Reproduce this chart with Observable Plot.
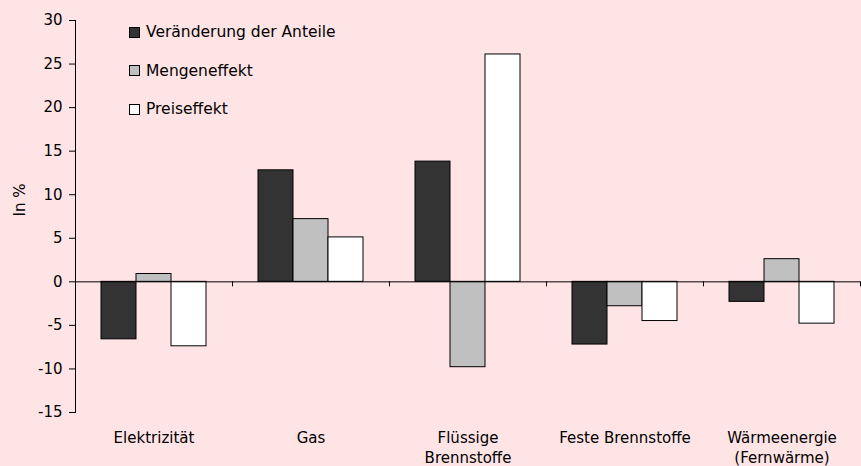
<!DOCTYPE html>
<html>
<head>
<meta charset="utf-8">
<script src="https://cdn.jsdelivr.net/npm/d3@7"></script>
<script src="https://cdn.jsdelivr.net/npm/@observablehq/plot@0.6"></script>
<style>
  html, body { margin: 0; padding: 0; background: #FFE4E6; }
  #wrap { position: relative; width: 861px; height: 466px; font-family: "DejaVu Sans", sans-serif; }
  #legend { position: absolute; left: 129px; top: 21px; font-size: 15.5px; color: #000; }
  .item { display: flex; align-items: center; height: 22px; margin-bottom: 16.5px; }
  .sw { width: 11px; height: 11px; border: 1px solid #000; box-sizing: border-box; margin-right: 6px; }
</style>
</head>
<body>
<div id="wrap"></div>
<script>
const categories = ["Elektrizität", "Gas", "Flüssige\nBrennstoffe", "Feste Brennstoffe", "Wärmeenergie\n(Fernwärme)"];
const series = ["Veränderung der Anteile", "Mengeneffekt", "Preiseffekt"];
const colors = ["#333333", "#C0C0C0", "#FFFFFF"];
const anteile = [-6.6, 12.8, 13.8, -7.2, -2.3];
const menge = [0.9, 7.2, -9.8, -2.8, 2.6];
const preis = [-7.4, 5.1, 26.1, -4.5, -4.8];
const yTicks = [-15, -10, -5, 0, 5, 10, 15, 20, 25, 30];

const values = [anteile, menge, preis];
// group layout: each category occupies one unit; bars fill part of it
const barW = 35 / 157;
const pad = (1 - 3 * barW) / 2;
const data = [];
categories.forEach((c, i) => {
  series.forEach((s, j) => {
    const x1 = i + pad + j * barW;
    data.push({cat: c, series: s, value: values[j][i], x1, x2: x1 + barW, color: colors[j]});
  });
});

const chart = Plot.plot({
  width: 861,
  height: 466,
  marginLeft: 75,
  marginRight: 1,
  marginTop: 20,
  marginBottom: 54,
  style: {background: "#FFE4E6", fontFamily: "DejaVu Sans, sans-serif", fontSize: "15px", color: "#000"},
  x: {domain: [0, categories.length]},
  y: {domain: [-15, 30]},
  marks: [
    Plot.rectY(data, {x1: "x1", x2: "x2", y1: 0, y2: "value", fill: "color", stroke: "#000", strokeWidth: 1}),
    Plot.ruleY([0], {stroke: "#000", strokeWidth: 1}),
    Plot.ruleX(d3.range(0, categories.length + 1), {y1: 0, y2: 0, insetBottom: -5, stroke: "#000"}),
    Plot.frame({anchor: "left", stroke: "#000"}),
    Plot.axisY({ticks: yTicks, tickSize: 6, tickPadding: 7, tickFormat: d => String(d), label: null, fontSize: 15}),
    Plot.text(["In %"], {frameAnchor: "left", dx: -55, rotate: -90, fontSize: 15, fill: "#000"}),
    Plot.axisX({ticks: d3.range(categories.length).map(i => i + 0.5), tickFormat: (d) => categories[Math.floor(d)], tickSize: 0, tickPadding: 16, label: null, fontSize: 15, lineHeight: 1.33})
  ]
});
document.getElementById("wrap").appendChild(chart);

const legend = document.createElement("div");
legend.id = "legend";
series.forEach((s, j) => {
  const it = document.createElement("div");
  it.className = "item";
  const sw = document.createElement("span");
  sw.className = "sw";
  sw.style.background = colors[j];
  it.appendChild(sw);
  it.appendChild(document.createTextNode(s));
  legend.appendChild(it);
});
document.getElementById("wrap").appendChild(legend);
</script>
</body>
</html>
